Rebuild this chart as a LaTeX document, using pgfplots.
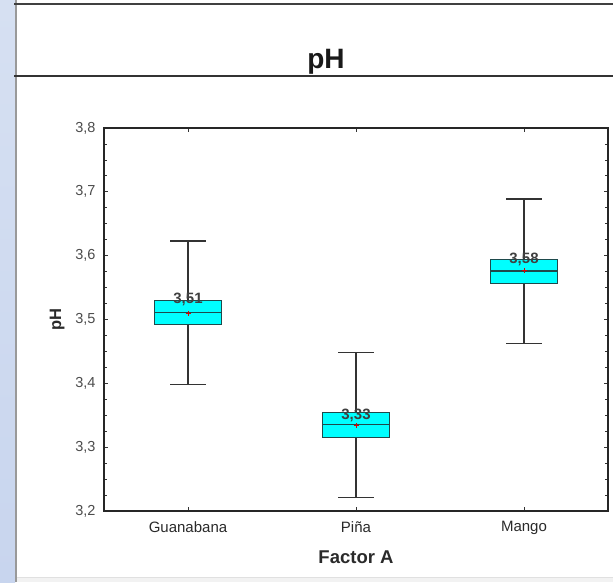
\documentclass[border=0pt]{standalone}
\usepackage{pgfplots}
\pgfplotsset{compat=1.18}
\usepackage{fontspec}
\setmainfont{Liberation Sans}
\definecolor{stripblue}{HTML}{C8D5EE}
\definecolor{stripblueT}{HTML}{D6E0F2}
\definecolor{boxcyan}{HTML}{00FFFF}
\definecolor{boxedge}{HTML}{1E4A4C}
\definecolor{txt}{HTML}{2A2A2A}
\begin{document}
\begin{tikzpicture}
\useasboundingbox (0pt,0pt) rectangle (613pt,582pt);
\fill[white] (0pt,0pt) rectangle (613pt,582pt);
\fill[black!5] (16pt,0pt) rectangle (613pt,5pt);
\draw[black!12, line width=0.6pt] (16pt,5pt) -- (613pt,5pt);
\shade[top color=stripblueT, bottom color=stripblue] (0pt,0pt) rectangle (15pt,582pt);
\draw[black!40, line width=1.5pt] (16pt,0pt) -- (16pt,582pt);
\draw[black!75, line width=1.6pt] (14pt,578pt) -- (613pt,578pt);
\draw[black!80, line width=1.8pt] (14pt,506pt) -- (613pt,506pt);
\node[anchor=base, inner sep=0pt, font=\fontsize{28}{30}\selectfont\bfseries, text=black!90] at (326pt,513pt) {pH};
\begin{axis}[
  at={(104pt,71pt)}, anchor=south west,
  scale only axis, width=504pt, height=383pt,
  xmin=-0.5, xmax=2.5, ymin=3.2, ymax=3.8,
  xtick={0,1,2}, xticklabels={Guanabana, Piña, Mango},
  ytick={3.2,3.3,3.4,3.5,3.6,3.7,3.8},
  minor y tick num=3,
  tick align=inside,
  major tick length=4pt, minor tick length=3pt,
  axis line style={black!85, line width=1.2pt},
  tick style={black!80, line width=0.8pt},
  unbounded coords=jump,
  yticklabel style={font=\fontsize{14.5}{16}\selectfont, text=black!70, xshift=-5pt},
  xticklabel style={font=\fontsize{15}{17}\selectfont, text=txt, yshift=-7pt},
  xlabel={Factor A},
  ylabel={pH},
  xlabel style={at={(axis description cs:0.5,-0.12)}, anchor=center, font=\fontsize{18.5}{20}\selectfont\bfseries, text=txt},
  ylabel style={at={(axis description cs:-0.093,0.5)}, anchor=center, font=\fontsize{16.5}{18}\selectfont\bfseries, text=txt},
  /pgf/number format/.cd, use comma, fixed, fixed zerofill, precision=1, assume math mode=true,
]
% whiskers and caps (lower whisker, lower quartile / upper quartile, upper whisker)
\addplot[black!80, line width=1.3pt, mark=none] coordinates {
  (0,3.398) (0,3.492) (0,nan) (0,3.530) (0,3.623) (0,nan)
  (-0.105,3.398) (0.105,3.398) (0,nan) (-0.105,3.623) (0.105,3.623) (0,nan)
  (1,3.221) (1,3.315) (1,nan) (1,3.354) (1,3.448) (1,nan)
  (0.895,3.221) (1.105,3.221) (1,nan) (0.895,3.448) (1.105,3.448) (1,nan)
  (2,3.462) (2,3.557) (2,nan) (2,3.594) (2,3.689) (2,nan)
  (1.895,3.462) (2.105,3.462) (2,nan) (1.895,3.689) (2.105,3.689)
};
% boxes (interquartile range)
\addplot[draw=boxedge, fill=boxcyan, line width=1.2pt, mark=none] coordinates {(-0.2,3.492) (0.2,3.492) (0.2,3.530) (-0.2,3.530)} -- cycle;
\addplot[draw=boxedge, fill=boxcyan, line width=1.2pt, mark=none] coordinates {(0.8,3.315) (1.2,3.315) (1.2,3.354) (0.8,3.354)} -- cycle;
\addplot[draw=boxedge, fill=boxcyan, line width=1.2pt, mark=none] coordinates {(1.8,3.557) (2.2,3.557) (2.2,3.594) (1.8,3.594)} -- cycle;
% medians
\addplot[boxedge, line width=1.3pt, mark=none] coordinates {
  (-0.2,3.511) (0.2,3.511) (0,nan)
  (0.8,3.335) (1.2,3.335) (1,nan)
  (1.8,3.576) (2.2,3.576)
};
% means
\addplot[only marks, mark=+, mark size=2.5pt, red!85!black, line width=0.8pt] coordinates {(0,3.510) (1,3.334) (2,3.577)};
% value labels
\addplot[only marks, mark=*, mark size=0pt, mark options={draw=none, fill=none},
  nodes near coords, point meta=explicit symbolic,
  nodes near coords align={anchor=base},
  every node near coord/.append style={font=\fontsize{15}{17}\selectfont\bfseries, text=black!75, inner sep=0pt}]
  table[meta=lab] {
x y lab
0 3.525 {3,51}
1 3.344 {3,33}
2 3.588 {3,58}
};
\end{axis}
\end{tikzpicture}
\end{document}
